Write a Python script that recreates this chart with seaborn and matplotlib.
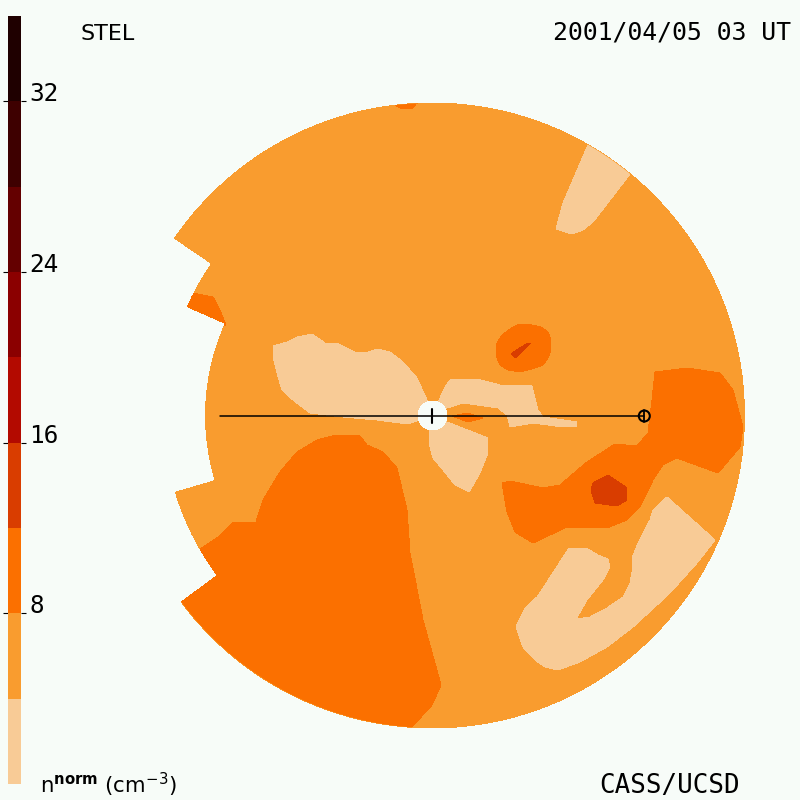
import numpy as np
import seaborn as sns
import matplotlib.pyplot as plt
from matplotlib.colors import ListedColormap
from matplotlib.patches import Circle, Wedge

sns.set_style("white")
plt.rcParams['font.family'] = ['DejaVu Sans Mono', 'DejaVu Sans']
plt.rcParams['mathtext.fontset'] = 'dejavusans'
plt.rcParams['text.color'] = 'black'

# colour bar
bar_levels = [34, 30, 26, 22, 18, 14, 10, 6, 2]
bar_colors = ['#1f0000', '#3e0000', '#640000', '#8b0000', '#b30a00',
              '#d93d00', '#fb7000', '#f99c2f', '#f8cb96']
bar_ticks = [8, 16, 24, 32]
bg = '#f7fcf8'
light, orange, dark, red = '#f8cb96', '#f99c2f', '#fb7000', '#d93d00'

# contour outlines (x, y in image pixels)
light_left = [(273, 346), (287, 342), (297, 337), (312, 334), (325, 343), (337, 343),
              (355, 352), (368, 352), (378, 349), (390, 352), (403, 362), (417, 378),
              (427, 400), (432, 416), (408, 424), (377, 420), (343, 417), (310, 413),
              (293, 400), (282, 390), (277, 373), (273, 357)]
light_band = [(432, 416), (440, 398), (445, 387), (450, 380), (477, 379), (500, 385), (532, 386),
              (538, 410), (543, 417), (577, 422), (577, 426), (563, 427), (533, 423),
              (510, 427), (507, 415), (498, 408), (463, 403), (447, 408)]
light_below = [(432, 416), (447, 422), (488, 438), (488, 453), (480, 473), (469, 492),
               (455, 485), (443, 470), (433, 458), (429, 443), (429, 430)]
light_top = [(556, 229), (563, 203), (575, 175), (588, 145), (595, 130), (645, 160),
             (630, 174), (593, 222), (583, 230), (572, 234)]
light_u = [(667, 497), (715, 540), (697, 563), (670, 593), (633, 627), (607, 647),
           (580, 662), (558, 670), (545, 667), (535, 660), (523, 647), (516, 627),
           (525, 608), (537, 597), (547, 582), (569, 548), (588, 549), (598, 555),
           (608, 559), (610, 567), (603, 580), (587, 600), (576, 619), (590, 617),
           (607, 608), (623, 597), (630, 583), (633, 567), (632, 558), (638, 543),
           (650, 520), (653, 510)]
dark_right = [(655, 372), (687, 368), (720, 373), (733, 390), (743, 427), (740, 447),
              (718, 473), (677, 458), (663, 465), (653, 480), (640, 507), (627, 520),
              (607, 528), (567, 527), (533, 543), (515, 532), (507, 512), (502, 483),
              (510, 481), (543, 488), (560, 485), (587, 462), (615, 444), (637, 446),
              (648, 433), (652, 400)]
dark_top = [(517, 325), (525, 324), (532, 325), (541, 327), (548, 332), (551, 340),
            (551, 350), (548, 358), (543, 365), (532, 369), (520, 372), (508, 370),
            (500, 365), (497, 358), (496, 350), (497, 343), (502, 335), (510, 329)]
dark_big = [(336, 435), (360, 436), (367, 445), (383, 452), (397, 468), (407, 510),
            (410, 553), (423, 620), (441, 685), (432, 705), (412, 727), (412, 760),
            (150, 760), (150, 575), (199, 550), (218, 537), (232, 523), (256, 522),
            (263, 500), (280, 472), (297, 452), (317, 440)]
dark_edge = [(193, 293), (213, 297), (220, 310), (226, 325), (200, 330), (170, 310), (170, 285)]
dark_rim = [(390, 100), (422, 100), (416, 104), (412, 108.5), (402, 108.5), (396, 106)]
dark_sliver = [(452, 416), (468, 413), (483, 418), (468, 422)]
red_spot = [(608, 475), (627, 488), (627, 500), (617, 506), (595, 503), (591, 490), (593, 483)]
red_streak = [(531, 343), (515, 358), (511, 354), (515, 351), (528, 343)]

# disk and its stepped left edge
disk_center = (432, 415.5)
disk_radius = 312.5
notch_outer = (143.6, 214.3, 269)
notch_inner = (163.6, 203.7, 227.5)

fig = plt.figure(figsize=(8, 8), dpi=100, facecolor=bg)
ax = fig.add_axes([0, 0, 1, 1], facecolor=bg)
ax.set_xlim(0, 800)
ax.set_ylim(800, 0)
ax.axis('off')

disk = Circle(disk_center, disk_radius, facecolor=orange, lw=0, antialiased=False)
ax.add_patch(disk)

regions = [(light_left, light), (light_band, light), (light_below, light), (light_top, light),
           (light_u, light), (dark_right, dark), (dark_top, dark), (dark_big, dark),
           (dark_edge, dark), (dark_rim, dark), (dark_sliver, dark), (red_spot, red),
           (red_streak, red)]
for outline, color in regions:
    xs, ys = zip(*outline)
    for poly in ax.fill(xs, ys, color=color, lw=0, antialiased=False):
        poly.set_clip_path(disk)

# parts of the disk with no data
for t1, t2, r in [notch_outer, notch_inner]:
    ax.add_patch(Wedge(disk_center, 340, t1, t2, width=340 - r, facecolor=bg, lw=0, antialiased=False))

# sun, line of sight, earth
ax.add_patch(Circle((432.5, 415.5), 14.5, facecolor=bg, lw=0, antialiased=False))
ax.plot([220, 644], [416, 416], color='black', lw=1.1)
ax.plot([432, 432], [409, 423], color='black', lw=1.5)
ax.add_patch(Circle((644.3, 416), 5.5, facecolor='none', edgecolor='black', lw=1.5))
ax.plot([644.3, 644.3], [410, 422], color='black', lw=1.3)

ax.text(80, 40, 'STEL', fontsize=16, family='DejaVu Sans', va='baseline')
ax.text(791, 40, '2001/04/05 03 UT', fontsize=17.8, ha='right', va='baseline')
ax.text(740, 793, 'CASS/UCSD', fontsize=18.6, ha='right', va='baseline')
ax.text(40, 793, r'n$^{\mathbf{norm}}$ (cm$^{-3}$)', fontsize=15.3, family='DejaVu Sans', va='baseline')

# colour bar as a one column heatmap
cax = fig.add_axes([8 / 800, 16 / 800, 13 / 800, 768 / 800])
sns.heatmap(np.array(bar_levels).reshape(-1, 1), cmap=ListedColormap(bar_colors[::-1]),
            cbar=False, ax=cax, xticklabels=False, yticklabels=False)
cax.set_ylim(9, 0)
cax.set_yticks([(36 - t) / 4 for t in bar_ticks])
cax.set_yticklabels(bar_ticks, fontsize=17.6, va='baseline', color='black')
cax.tick_params(axis='y', left=True, right=True, labelleft=False, labelright=True,
                length=3.6, width=0.8, pad=2.5, color='black')
for s in cax.spines.values():
    s.set_visible(False)

plt.savefig('out.png', dpi=100, facecolor=bg)
